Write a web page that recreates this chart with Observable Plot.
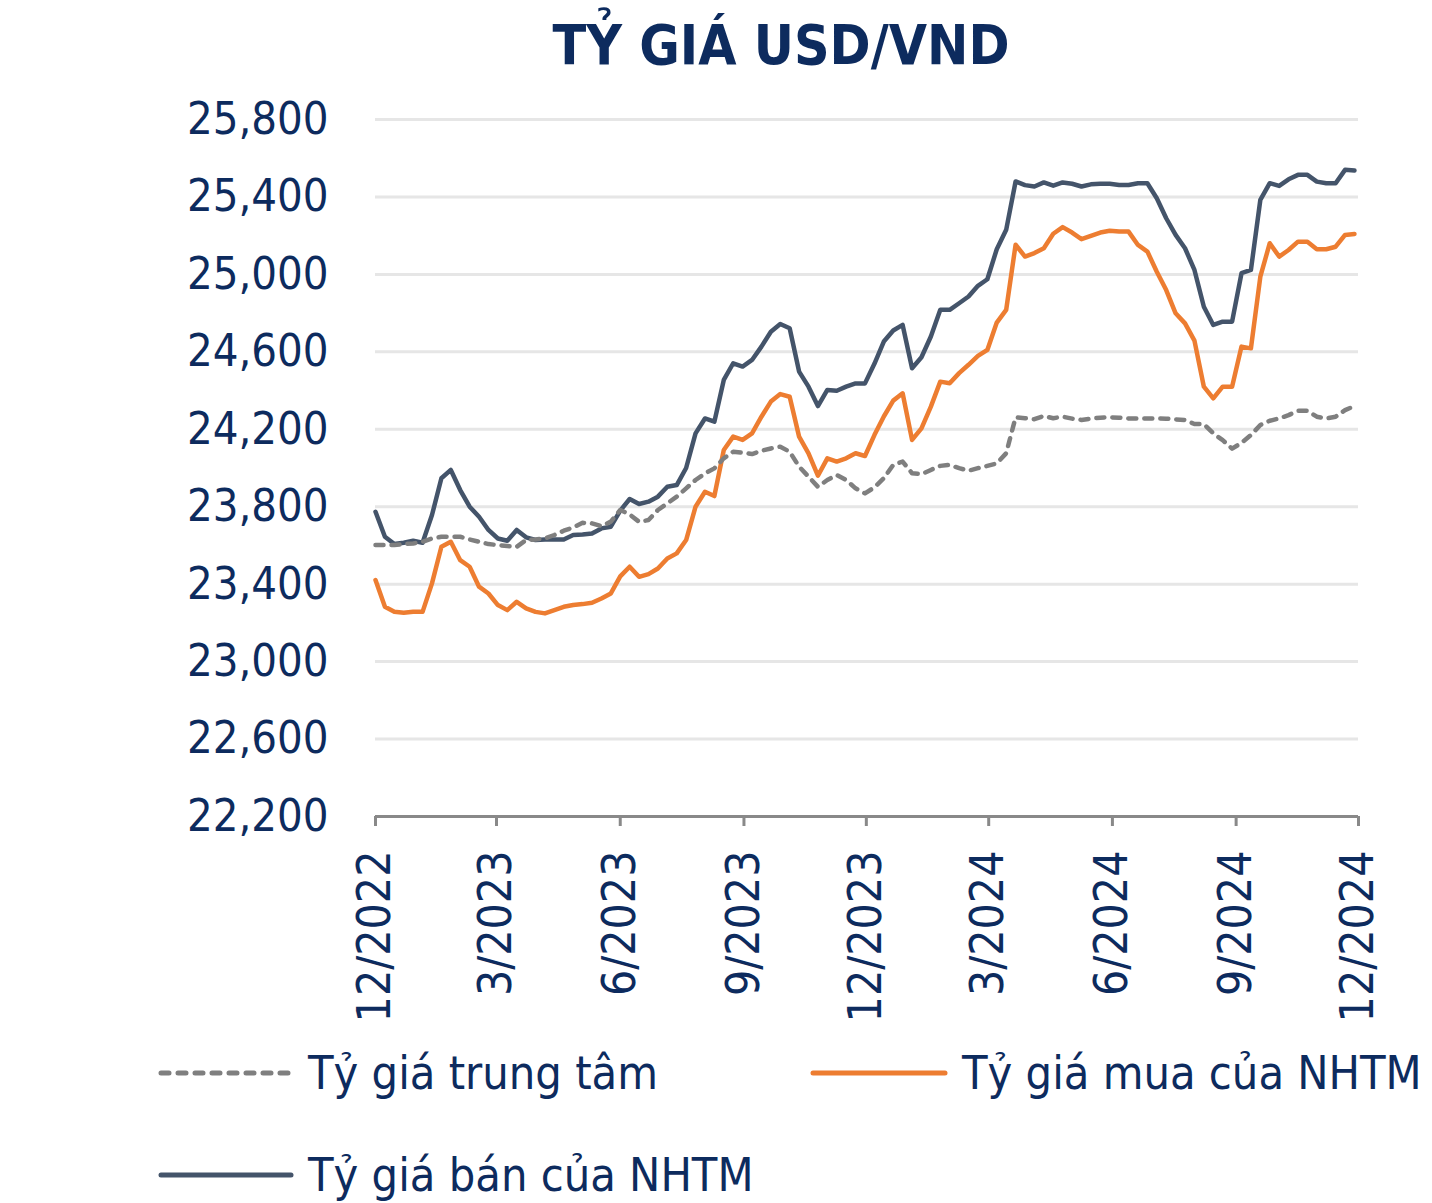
<!DOCTYPE html>
<html>
<head>
<meta charset="utf-8">
<script src="https://cdn.jsdelivr.net/npm/d3@7"></script>
<script src="https://cdn.jsdelivr.net/npm/@observablehq/plot@0.6"></script>
<style>
  html, body { margin: 0; padding: 0; background: #fff; }
  body { width: 1432px; font-family: "DejaVu Sans Condensed", "DejaVu Sans", sans-serif; font-stretch: condensed; color: #0d2b5e; }
  #title { height: 90px; line-height: 90px; padding-left: 130px; text-align: center; font-weight: bold; font-size: 55px; color: #0d2b5e; }
  #legend { position: relative; height: 173px; }
  .item { position: absolute; display: flex; align-items: center; font-size: 46.5px; color: #0d2b5e; white-space: nowrap; }
  .item svg { margin-right: 14px; }
</style>
</head>
<body>
<div id="title">TỶ GIÁ USD/VND</div>
<div id="chart"></div>
<div id="legend"></div>
<script>
// Weekly observations starting 1 Dec 2022
const startDate = "2022-12-01";
const stepDays = 7;

const seriesNames = ["Tỷ giá trung tâm", "Tỷ giá mua của NHTM", "Tỷ giá bán của NHTM"];

const central = [
  23602,23602,23602,23607,23610,23619,23636,23645,23645,23645,
  23631,23619,23607,23602,23597,23593,23628,23631,23636,23654,
  23676,23693,23717,23714,23700,23723,23783,23760,23722,23731,
  23783,23817,23852,23895,23938,23972,23998,24050,24084,24079,
  24072,24089,24101,24110,24084,24007,23955,23903,23938,23964,
  23938,23895,23869,23900,23947,24016,24033,23973,23968,23990,
  24011,24016,23999,23986,23999,24011,24024,24076,24262,24257,
  24252,24269,24257,24265,24255,24248,24255,24260,24262,24260,
  24256,24256,24256,24256,24255,24251,24248,24227,24227,24179,
  24144,24100,24130,24170,24222,24244,24256,24273,24296,24296,
  24265,24256,24265,24299,24320
];

const buy = [
  23421,23283,23257,23252,23257,23257,23404,23593,23619,23524,
  23490,23387,23352,23292,23266,23309,23275,23257,23249,23266,
  23283,23292,23297,23304,23326,23352,23440,23490,23438,23452,
  23481,23533,23559,23628,23800,23877,23855,24093,24162,24145,
  24179,24265,24343,24382,24368,24162,24076,23960,24050,24033,
  24050,24076,24062,24170,24266,24348,24386,24145,24205,24317,
  24446,24438,24490,24533,24579,24610,24751,24817,25153,25092,
  25110,25135,25210,25244,25216,25182,25199,25216,25225,25221,
  25221,25152,25118,25014,24919,24799,24747,24658,24420,24360,
  24420,24420,24627,24618,24988,25161,25092,25126,25169,25169,
  25130,25130,25143,25204,25209
];

const sell = [
  23774,23645,23607,23614,23624,23614,23757,23947,23990,23886,
  23800,23748,23680,23636,23624,23680,23642,23628,23631,23631,
  23631,23654,23657,23662,23688,23697,23780,23840,23814,23826,
  23852,23903,23912,24000,24179,24256,24239,24455,24541,24524,
  24558,24627,24704,24744,24722,24498,24420,24320,24403,24399,
  24420,24437,24437,24538,24653,24710,24739,24515,24572,24679,
  24817,24817,24851,24886,24941,24975,25130,25230,25480,25461,
  25454,25475,25458,25475,25468,25454,25465,25468,25468,25462,
  25462,25471,25471,25393,25290,25204,25135,25023,24833,24739,
  24756,24756,25006,25023,25385,25471,25457,25491,25514,25514,
  25479,25471,25471,25540,25536
];

const xTicks = ["2022-12-01","2023-03-01","2023-06-01","2023-09-01","2023-12-01","2024-03-01","2024-06-01","2024-09-01","2024-12-01"];
const yTicks = [22200,22600,23000,23400,23800,24200,24600,25000,25400,25800];

const colors = { central: "#7f7f7f", buy: "#ed7d31", sell: "#44546a" };
const navy = "#0d2b5e";

const t0 = new Date(startDate + "T00:00:00Z");
const dateAt = i => new Date(+t0 + i * stepDays * 864e5);
const toRows = arr => arr.map((v, i) => ({date: dateAt(i), value: v}));

const chart = Plot.plot({
  width: 1432,
  height: 940,
  marginLeft: 375,
  marginRight: 74,
  marginTop: 29,
  marginBottom: 214,
  style: { fontFamily: '"DejaVu Sans Condensed", "DejaVu Sans", sans-serif', fontStretch: "condensed", background: "#fff", overflow: "visible" },
  x: { type: "utc", domain: [new Date(xTicks[0]), new Date(xTicks[xTicks.length - 1])] },
  y: { domain: [22200, 25800] },
  marks: [
    Plot.gridY(yTicks, { stroke: "#e6e6e6", strokeWidth: 3, strokeOpacity: 1 }),
    Plot.axisY(yTicks, { tickSize: 0, tickPadding: 47, tickFormat: d3.format(","), fontSize: 45, fill: navy, label: null }),
    Plot.ruleY([22200], { stroke: "#898989", strokeWidth: 3 }),
    Plot.axisX(xTicks.map(d => new Date(d)), {
      tickSize: 10, tickPadding: 24, tickRotate: -90, stroke: "#898989", strokeWidth: 3,
      fontSize: 46, fill: navy, label: null,
      tickFormat: d => `${d.getUTCMonth() + 1}/${d.getUTCFullYear()}`
    }),
    Plot.line(toRows(sell), { x: "date", y: "value", stroke: colors.sell, strokeWidth: 4.5, strokeLinejoin: "round" }),
    Plot.line(toRows(buy), { x: "date", y: "value", stroke: colors.buy, strokeWidth: 4.5, strokeLinejoin: "round" }),
    Plot.line(toRows(central), { x: "date", y: "value", stroke: colors.central, strokeWidth: 4.5, strokeDasharray: "8,8", strokeLinecap: "round", strokeLinejoin: "round" })
  ]
});
document.getElementById("chart").appendChild(chart);

// Legend
const legend = document.getElementById("legend");
const items = [
  { name: seriesNames[0], color: colors.central, dash: "8,9", left: 158, top: 43 },
  { name: seriesNames[1], color: colors.buy, dash: null, left: 810, top: 43 },
  { name: seriesNames[2], color: colors.sell, dash: null, left: 158, top: 145 }
];
for (const it of items) {
  const div = document.createElement("div");
  div.className = "item";
  div.style.left = it.left + "px";
  div.style.top = (it.top - 30) + "px";
  div.style.height = "60px";
  const w = it.left === 158 ? 136 : 138;
  div.innerHTML = `<svg width="${w}" height="10"><line x1="3" y1="5" x2="${w - 3}" y2="5" stroke="${it.color}" stroke-width="5" stroke-linecap="round" ${it.dash ? `stroke-dasharray="${it.dash}"` : ""}/></svg><span>${it.name}</span>`;
  legend.appendChild(div);
}
</script>
</body>
</html>
